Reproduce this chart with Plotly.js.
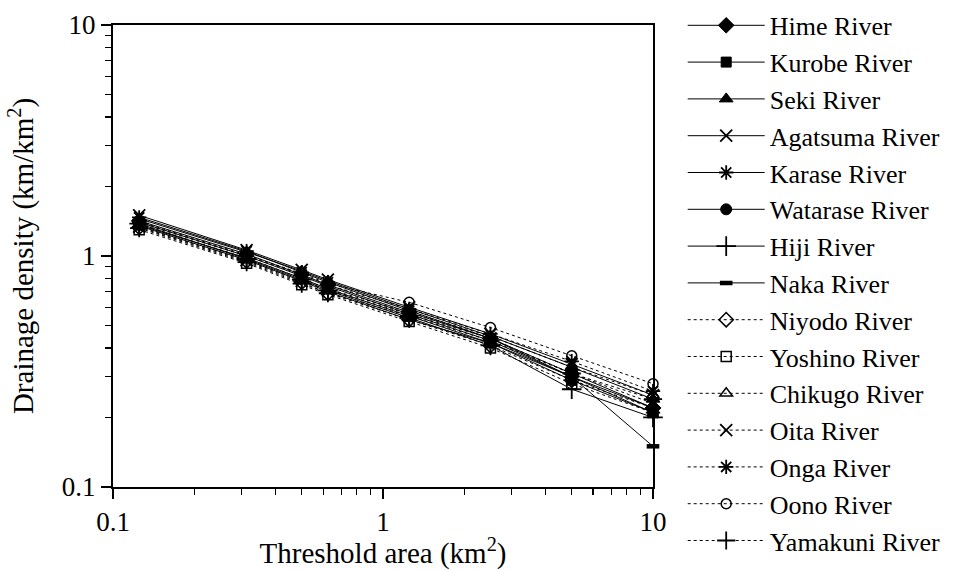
<!DOCTYPE html>
<html>
<head>
<meta charset="utf-8">
<script src="https://cdn.plot.ly/plotly-3.0.1.min.js"></script>
<style>
html,body{margin:0;padding:0;background:#fff;}
#chart{width:965px;height:570px;}
</style>
</head>
<body>
<div id="chart"></div>
<script>
// Threshold areas (km2)
const thresholdArea = [0.125, 0.3125, 0.5, 0.625, 1.25, 2.5, 5, 10];

const riverNames = ["Hime River","Kurobe River","Seki River","Agatsuma River","Karase River","Watarase River","Hiji River","Naka River","Niyodo River","Yoshino River","Chikugo River","Oita River","Onga River","Oono River","Yamakuni River"];

// Drainage density (km/km2)
const hime     = [1.42, 1.02, 0.83, 0.75, 0.57, 0.44, 0.31, 0.22];
const kurobe   = [1.36, 0.98, 0.80, 0.72, 0.55, 0.42, 0.29, 0.21];
const seki     = [1.45, 1.04, 0.86, 0.78, 0.59, 0.45, 0.33, 0.24];
const agatsuma = [1.50, 1.06, 0.87, 0.79, 0.60, 0.46, 0.34, 0.25];
const karase   = [1.47, 1.05, 0.85, 0.77, 0.58, 0.44, 0.30, 0.21];
const watarase = [1.40, 1.00, 0.82, 0.74, 0.56, 0.43, 0.30, 0.22];
const hiji     = [1.38, 0.97, 0.79, 0.71, 0.54, 0.41, 0.265, 0.20];
const naka     = [1.35, 0.96, 0.78, 0.70, 0.53, 0.42, 0.30, 0.15];
const niyodo   = [1.33, 0.95, 0.77, 0.69, 0.53, 0.41, 0.29, 0.22];
const yoshino  = [1.30, 0.93, 0.75, 0.68, 0.52, 0.40, 0.28, 0.21];
const chikugo  = [1.37, 0.98, 0.80, 0.72, 0.57, 0.45, 0.33, 0.25];
const oita     = [1.34, 0.96, 0.78, 0.71, 0.56, 0.44, 0.31, 0.23];
const onga     = [1.39, 1.00, 0.83, 0.75, 0.59, 0.46, 0.35, 0.26];
const oono     = [1.41, 1.01, 0.84, 0.76, 0.63, 0.49, 0.37, 0.28];
const yamakuni = [1.32, 0.94, 0.76, 0.69, 0.55, 0.43, 0.31, 0.24];

const seriesValues = [hime,kurobe,seki,agatsuma,karase,watarase,hiji,naka,niyodo,yoshino,chikugo,oita,onga,oono,yamakuni];

const majorTicks = [0.1, 1, 10];
const majorTickText = ["0.1", "1", "10"];
const minorTicks = [0.2,0.3,0.4,0.5,0.6,0.7,0.8,0.9,2,3,4,5,6,7,8,9];

// styles
const symbols = ["diamond","square","triangle-up","x-thin-open","asterisk-open","circle","cross-thin-open","line-ew-open",
                 "diamond-open","square-open","triangle-up-open","x-thin-open","asterisk-open","circle-open","cross-thin-open"];
const sizes   = [12,10,12,12,12,11,14,9, 11,10,11,12,12,10,13];
const mlw     = [1,1,1,1.8,1.8,1,1.8,4.5, 1.5,1.5,1.5,1.8,1.8,1.5,1.8];

const FONT = "Liberation Serif, DejaVu Serif";

const traces = seriesValues.map((vals, i) => ({
  type: "scatter",
  mode: "lines+markers",
  name: riverNames[i],
  x: thresholdArea,
  y: vals,
  cliponaxis: false,
  line: {color: "#000", width: 1, dash: i < 8 ? "solid" : "3px,3px"},
  marker: {symbol: symbols[i], size: sizes[i], color: "#000", line: {color: "#000", width: mlw[i]}}
}));

const axisCommon = {
  type: "log",
  range: [-1, 1],
  showgrid: false,
  zeroline: false,
  showline: true,
  linecolor: "#000",
  linewidth: 2,
  mirror: true,
  ticks: "outside",
  ticklen: 10,
  tickwidth: 1.5,
  tickcolor: "#000",
  tickmode: "array",
  tickvals: majorTicks,
  ticktext: majorTickText,
  tickfont: {family: FONT, size: 27, color: "#000"},
  minor: {ticks: "outside", ticklen: 6, tickwidth: 1.2, tickcolor: "#000", tickmode: "array", tickvals: minorTicks},
  automargin: false
};

const layout = {
  width: 965,
  height: 570,
  paper_bgcolor: "#fff",
  plot_bgcolor: "#fff",
  margin: {l: 113, r: 312, t: 25, b: 83, autoexpand: false},
  font: {family: FONT, color: "#000"},
  xaxis: Object.assign({}, axisCommon, {
    title: {text: "Threshold area (km<sup>2</sup>)", font: {family: FONT, size: 29, color: "#000"}, standoff: 12}
  }),
  yaxis: Object.assign({}, axisCommon, {
    title: {text: "Drainage density (km/km<sup>2</sup>)", font: {family: FONT, size: 29, color: "#000"}, standoff: 20}
  }),
  showlegend: true,
  legend: {
    x: 1.055, xanchor: "left",
    y: 1.05, yanchor: "top",
    font: {family: FONT, size: 26, color: "#000"},
    bgcolor: "rgba(0,0,0,0)",
    borderwidth: 0,
    itemwidth: 77,
    tracegroupgap: 0,
    maxheight: 570
  }
};

Plotly.newPlot("chart", traces, layout, {displayModeBar: false, staticPlot: true});
</script>
</body>
</html>
